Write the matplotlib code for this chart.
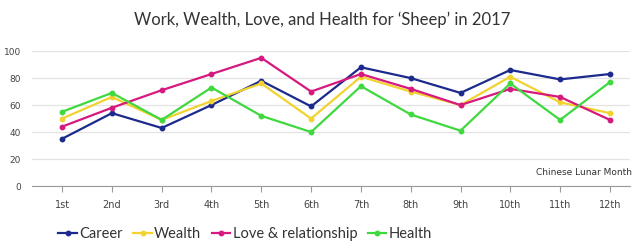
import matplotlib.pyplot as plt

months = ["1st", "2nd", "3rd", "4th", "5th", "6th",
          "7th", "8th", "9th", "10th", "11th", "12th"]
career = [35, 54, 43, 60, 78, 59, 88, 80, 69, 86, 79, 83]
wealth = [50, 66, 49, 63, 76, 50, 81, 70, 60, 81, 62, 54]
love = [44, 58, 71, 83, 95, 70, 83, 72, 60, 72, 66, 49]
health = [55, 69, 49, 73, 52, 40, 74, 53, 41, 76, 49, 77]

series = [
    ("Career", career, "#1b2a8c"),
    ("Wealth", wealth, "#f2d22e"),
    ("Love & relationship", love, "#d6197e"),
    ("Health", health, "#3fd83f"),
]

fig = plt.figure(figsize=(6.44, 2.48), dpi=100)
ax = fig.add_axes([0.05, 0.25, 0.928, 0.544])

x = range(len(months))
for name, vals, col in series:
    ax.plot(x, vals, color=col, lw=1.6, marker="o", ms=3.2, label=name)

ax.set_ylim(0, 100)
ax.set_xlim(-0.6, 11.4)
ax.set_yticks(range(0, 101, 20))
ax.set_xticks(list(x))
ax.set_xticklabels(months)
ax.grid(axis="y", color="#e3e3e3", lw=0.9)
ax.set_axisbelow(True)
for s in ["top", "right", "left"]:
    ax.spines[s].set_visible(False)
ax.spines["bottom"].set_color("#9a9a9a")
ax.tick_params(axis="y", length=0, labelsize=6.5, colors="#444444", pad=8)
ax.tick_params(axis="x", length=4, color="#9a9a9a", labelsize=7, colors="#444444", pad=6)

ax.text(11.45, 7, "Chinese Lunar Month", ha="right", va="bottom",
        fontsize=6.5, color="#333333")

fig.suptitle("Work, Wealth, Love, and Health for \u2018Sheep\u2019 in 2017",
             y=0.955, fontsize=12, color="#333333", family="Lato")

fig.legend(loc="center left", bbox_to_anchor=(0.07, 0.055), ncol=4,
           frameon=False, handlelength=1.3, handletextpad=0.15,
           columnspacing=0.7, labelcolor="#333333",
           prop={"family": "Lato", "size": 10.5})

fig.savefig("out.png", dpi=100)
